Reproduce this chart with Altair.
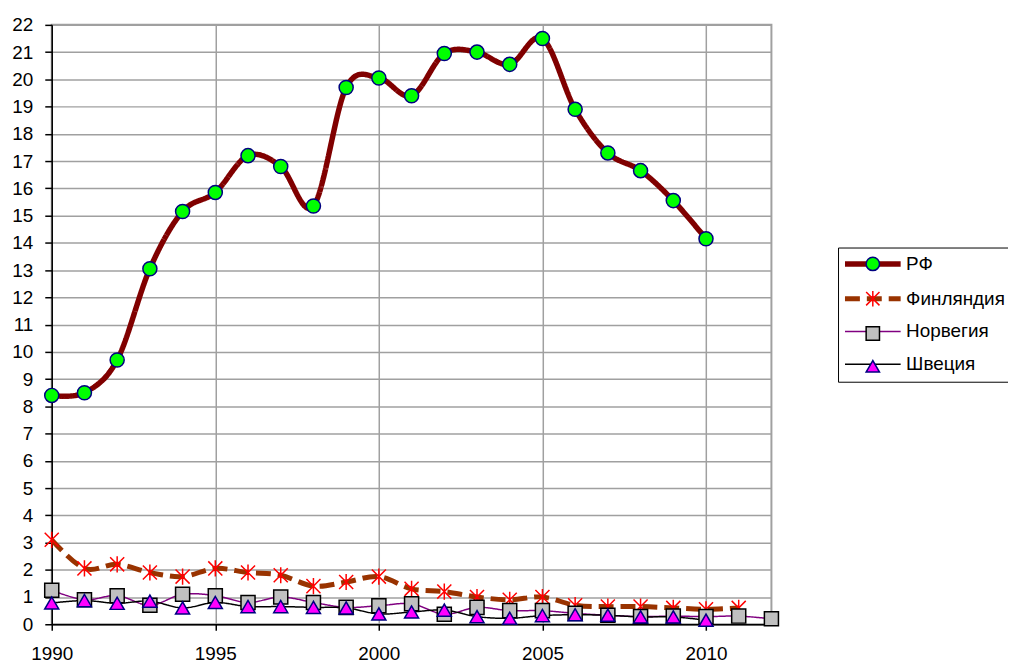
import altair as alt
import pandas as pd

names = ["РФ", "Финляндия", "Норвегия", "Швеция"]
years = list(range(1990, 2013))

rf = [8.4, 8.5, 9.7, 13.05, 15.15, 15.85, 17.2, 16.8, 15.35, 19.7, 20.05,
      19.4, 20.95, 21.0, 20.55, 21.5, 18.9, 17.3, 16.65, 15.55, 14.15, None, None]
finland = [3.1, 2.05, 2.2, 1.9, 1.75, 2.05, 1.9, 1.8, 1.4, 1.55, 1.75,
           1.3, 1.2, 1.0, 0.9, 1.0, 0.7, 0.65, 0.65, 0.6, 0.55, 0.6, None]
norway = [1.25, 0.9, 1.05, 0.7, 1.1, 1.05, 0.8, 1.0, 0.8, 0.62, 0.68,
          0.75, 0.37, 0.62, 0.5, 0.5, 0.4, 0.33, 0.28, 0.3, 0.28, 0.3, 0.2]
sweden = [0.78, 0.87, 0.77, 0.85, 0.6, 0.8, 0.65, 0.65, 0.62, 0.6, 0.38,
          0.45, 0.52, 0.28, 0.22, 0.32, 0.35, 0.33, 0.27, 0.27, 0.15, None, None]

series_values = [rf, finland, norway, sweden]

line_colors = ["#800000", "#993300", "#800080", "#000000"]
line_widths = [5.5, 5, 1.5, 1.5]
line_dashes = [[1, 0], [15, 7], [1, 0], [1, 0]]
marker_fills = ["#00ff00", "transparent", "#c0c0c0", "#ff00ff"]
marker_strokes = ["#000080", "#ff0000", "#000000", "#000080"]
asterisk = "M-1,-1L1,1M-1,1L1,-1M0,-1.15L0,1.15"
marker_shapes = ["circle", asterisk, "square", "triangle-up"]

# marker legend uses a separate (hidden-label) domain so the two legends stay apart
names_m = [n + " " for n in names]

rows = []
for name, name_m, vals in zip(names, names_m, series_values):
    for yr, v in zip(years, vals):
        if v is not None:
            rows.append({"year": yr, "value": v, "series": name, "sm": name_m})
df = pd.DataFrame(rows)

FONT = "Liberation Sans"

x_enc = alt.X(
    "year:Q",
    scale=alt.Scale(domain=[1990, 2012], nice=False, zero=False),
    axis=alt.Axis(values=[1990, 1995, 2000, 2005, 2010], format="d", title=None,
                  labelFlush=False, labelOverlap=False, tickSize=6, labelPadding=14),
)
y_enc = alt.Y(
    "value:Q",
    scale=alt.Scale(domain=[0, 22], nice=False, zero=True),
    axis=alt.Axis(values=list(range(0, 23)), title=None, labelFlush=False,
                  labelOverlap=False, tickSize=7, labelPadding=12),
)

LX, LY = 791, 224
common_leg = dict(orient="none", legendX=LX, legendY=LY, title=None, padding=7,
                  symbolOffset=18.5, labelOffset=24, rowPadding=13,
                  labelFont=FONT, labelFontSize=19, labelColor="#000000")

base = alt.Chart(df)

lines = base.mark_line(interpolate="cardinal", tension=0).encode(
    x=x_enc,
    y=y_enc,
    color=alt.Color("series:N", scale=alt.Scale(domain=names, range=line_colors),
                    legend=alt.Legend(strokeColor="#000000", fillColor="#ffffff",
                                      symbolType="M-5.6,0H5.6", symbolSize=100,
                                      zindex=1, **common_leg)),
    strokeDash=alt.StrokeDash("series:N", scale=alt.Scale(domain=names, range=line_dashes)),
    strokeWidth=alt.StrokeWidth("series:N",
                                scale=alt.Scale(type="ordinal", domain=names, range=line_widths)),
)

points = base.mark_point(filled=True, opacity=1, strokeWidth=1.5, size=200).encode(
    x=x_enc,
    y=y_enc,
    fill=alt.Fill("sm:N", scale=alt.Scale(domain=names_m, range=marker_fills),
                  legend=alt.Legend(symbolSize=180, symbolStrokeWidth=1.5, labelOpacity=0,
                                    zindex=2, **common_leg)),
    stroke=alt.Stroke("sm:N", scale=alt.Scale(domain=names_m, range=marker_strokes)),
    shape=alt.Shape("sm:N", scale=alt.Scale(domain=names_m, range=marker_shapes)),
)

chart = (
    alt.layer(lines, points)
    .properties(width=724, height=603,
                autosize=alt.AutoSizeParams(type="none"),
                padding={"left": 44, "top": 15, "right": 238, "bottom": 38})
    .configure(background="#ffffff")
    .configure_view(stroke="#a0a0a0", strokeWidth=2)
    .configure_axis(domainColor="#000000", domainWidth=1.5, tickColor="#000000",
                    tickWidth=1.5, gridColor="#a0a0a0", gridWidth=1.5,
                    labelFont=FONT, labelFontSize=19, labelColor="#000000")
)

chart.save("out.html", embed_options={"renderer": "svg", "actions": False})
